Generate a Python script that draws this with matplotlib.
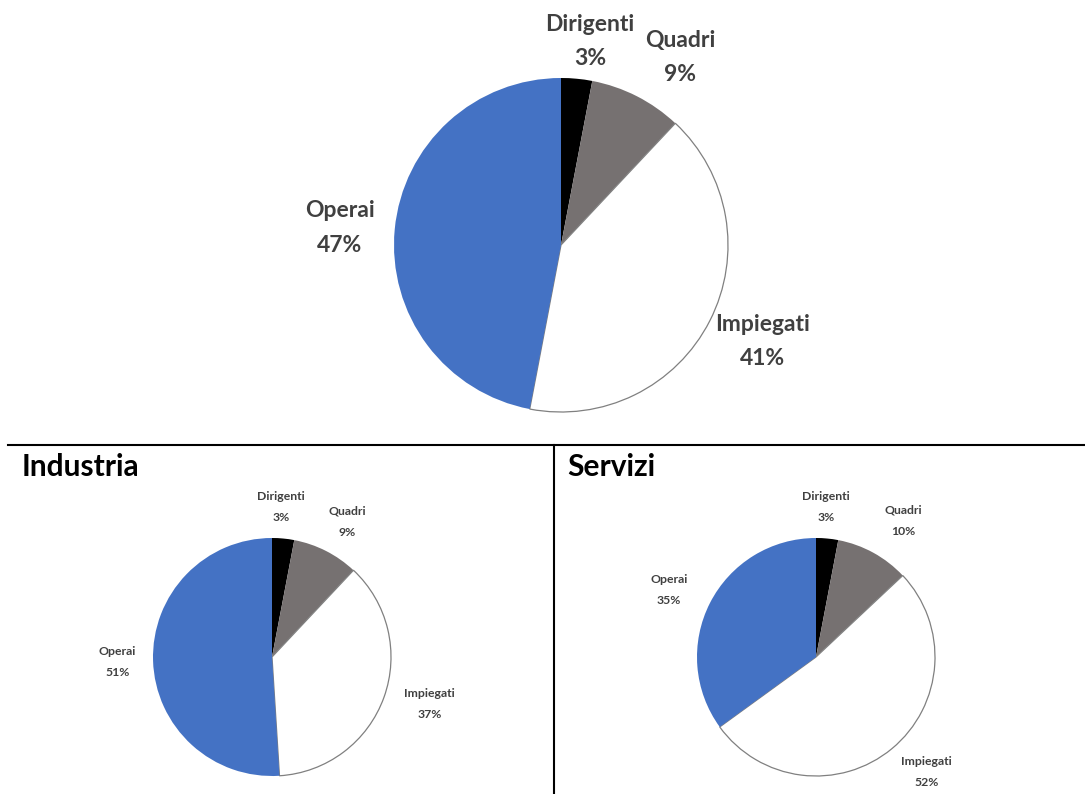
import matplotlib
matplotlib.use("Agg")
import matplotlib.pyplot as plt
from matplotlib.lines import Line2D
import numpy as np

# ── dati ──────────────────────────────────────────────
categories = ["Dirigenti", "Quadri", "Impiegati", "Operai"]
totale = [3, 9, 41, 47]
industria = [3, 9, 37, 51]
servizi = [3, 10, 52, 35]

COLORS = ["#000000", "#767171", "#FFFFFF", "#4472C4"]
TEXT = "#404040"
FONT = ["Lato", "DejaVu Sans"]

W, H = 1085, 794
fig = plt.figure(figsize=(W / 100, H / 100), dpi=100)
fig.patch.set_facecolor("white")


def draw_pie(cx, cy, r, values, fontsize, spacing, dists, shifts):
    """Torta centrata in (cx, cy) pixel, raggio r pixel."""
    pad = 1.1
    ax = fig.add_axes([(cx - pad * r) / W, (H - cy - pad * r) / H,
                       2 * pad * r / W, 2 * pad * r / H])
    wedges, _ = ax.pie(values, colors=COLORS, startangle=90, counterclock=False,
                       wedgeprops={"linewidth": 0})
    wedges[2].set_edgecolor("#808080")
    wedges[2].set_linewidth(0.9)
    ax.set_xlim(-pad, pad)
    ax.set_ylim(-pad, pad)
    ax.set_aspect("equal")
    ax.axis("off")
    for w, cat, v, d, s in zip(wedges, categories, values, dists, shifts):
        ang = np.deg2rad((w.theta1 + w.theta2) / 2 + s)
        ax.text(d * np.cos(ang), d * np.sin(ang), f"{cat}\n{v}%",
                ha="center", va="center", fontsize=fontsize, fontweight="bold",
                color=TEXT, family=FONT, linespacing=spacing, clip_on=False)
    return ax


draw_pie(561, 245, 167, totale, 16.5, 1.8,
         [1.23, 1.33, 1.34, 1.33], [-2.7, -5.5, 1.4, 1.0])
draw_pie(272, 657, 119, industria, 8.8, 2.1,
         [1.26, 1.30, 1.38, 1.30], [2.0, -2.0, 3.1, 0.0])
draw_pie(816, 657, 119, servizi, 8.8, 2.1,
         [1.26, 1.36, 1.34, 1.36], [1.6, -3.8, 4.4, 2.5])

# titoli dei pannelli
fig.text(22 / W, 1 - 467 / H, "Industria", fontsize=21.5, fontweight="bold",
         family=FONT, color="black", va="center", ha="left")
fig.text(567 / W, 1 - 467 / H, "Servizi", fontsize=21.5, fontweight="bold",
         family=FONT, color="black", va="center", ha="left")

# linee di separazione
fig.add_artist(Line2D([8 / W, 1], [1 - 445 / H, 1 - 445 / H],
                      color="black", linewidth=1.5, transform=fig.transFigure))
fig.add_artist(Line2D([554 / W, 554 / W], [1 - 445 / H, 0],
                      color="black", linewidth=1.5, transform=fig.transFigure))

fig.savefig("out.png", dpi=100, facecolor="white")
